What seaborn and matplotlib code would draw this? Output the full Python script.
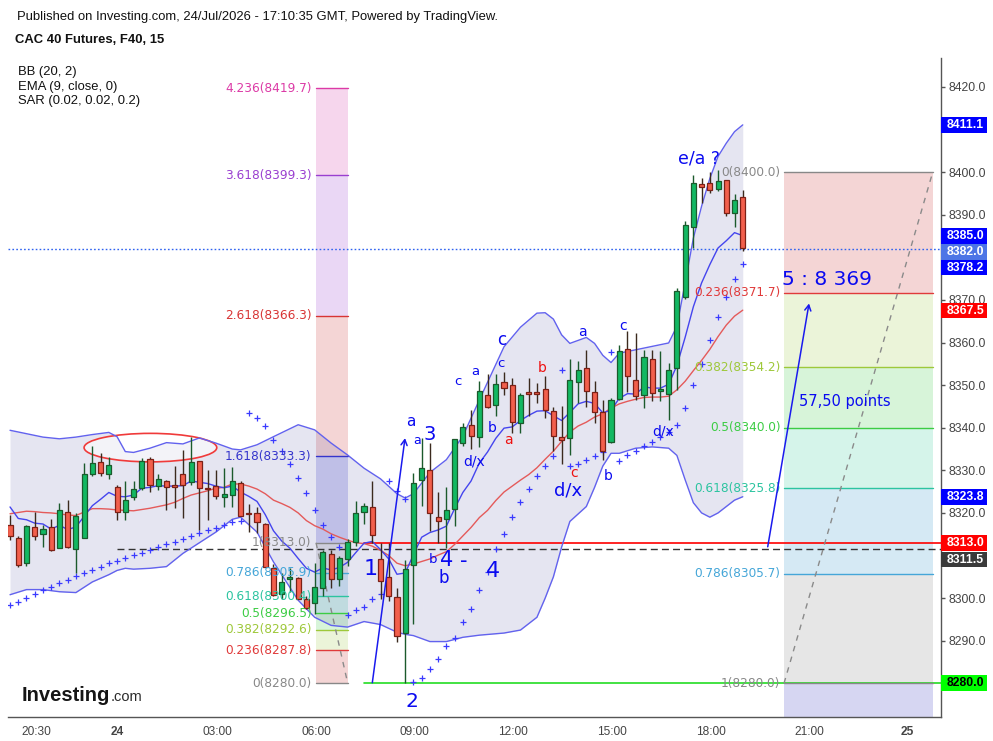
import numpy as np
import pandas as pd
import matplotlib
matplotlib.use("Agg")
import matplotlib.pyplot as plt
import seaborn as sns
from matplotlib.patches import Ellipse, FancyArrowPatch, Rectangle
from matplotlib.transforms import blended_transform_factory

# ---------------- data ----------------
opens = [8317.2, 8314.1, 8308.2, 8316.7, 8315.0, 8316.7, 8311.7, 8320.3, 8311.5, 8314.1,
         8329.1, 8331.9, 8329.1, 8326.2, 8320.3, 8323.7, 8325.8, 8332.6, 8326.4, 8327.6,
         8326.5, 8329.2, 8327.2, 8332.1, 8325.8, 8326.4, 8323.7, 8324.3, 8327.0, 8320.0,
         8320.0, 8317.4, 8307.1, 8301.0, 8304.5, 8304.8, 8299.8, 8298.8, 8302.4, 8310.4,
         8304.4, 8309.2, 8313.1, 8320.3, 8321.4, 8309.2, 8305.0, 8300.3, 8291.8, 8307.8,
         8327.8, 8330.1, 8319.1, 8318.6, 8320.9, 8336.3, 8340.7, 8337.8, 8347.7, 8345.3,
         8350.7, 8350.0, 8341.1, 8348.2, 8348.3, 8349.1, 8344.0, 8337.9, 8337.6, 8350.7,
         8354.0, 8348.4, 8343.7, 8336.6, 8346.8, 8358.5, 8351.3, 8347.6, 8356.1, 8348.6,
         8348.0, 8354.0, 8370.7, 8387.1, 8397.2, 8397.4, 8396.0, 8398.2, 8390.4, 8394.1]
highs = [8319.6, 8314.6, 8317.2, 8320.3, 8317.2, 8318.5, 8322.3, 8323.1, 8320.0, 8331.7,
         8335.8, 8334.0, 8333.2, 8326.6, 8327.4, 8327.5, 8332.9, 8333.2, 8329.2, 8327.8,
         8330.9, 8334.8, 8337.9, 8332.3, 8330.1, 8330.0, 8330.5, 8330.7, 8327.4, 8322.1,
         8321.3, 8317.6, 8307.9, 8306.0, 8307.1, 8304.9, 8300.5, 8308.3, 8311.3, 8311.4,
         8309.9, 8313.8, 8322.8, 8322.4, 8327.4, 8313.0, 8313.0, 8302.4, 8309.0, 8329.4,
         8337.6, 8336.3, 8324.9, 8326.1, 8337.4, 8341.1, 8344.2, 8350.9, 8352.7, 8352.7,
         8353.0, 8351.7, 8348.2, 8351.7, 8350.5, 8352.2, 8344.9, 8345.0, 8356.1, 8355.7,
         8358.2, 8350.9, 8346.6, 8347.0, 8359.5, 8362.6, 8362.2, 8358.3, 8358.3, 8358.1,
         8355.2, 8372.8, 8388.6, 8399.4, 8398.6, 8400.1, 8400.4, 8398.2, 8394.9, 8395.7]
lows = [8313.7, 8307.4, 8307.6, 8313.7, 8312.0, 8311.0, 8311.7, 8311.7, 8305.9, 8314.1,
        8328.6, 8328.6, 8328.0, 8318.4, 8318.4, 8323.1, 8325.4, 8324.8, 8325.4, 8320.6,
        8321.1, 8318.8, 8326.5, 8315.9, 8318.4, 8323.2, 8321.3, 8321.3, 8319.2, 8315.6,
        8315.3, 8307.2, 8300.5, 8299.7, 8301.4, 8299.7, 8297.5, 8296.2, 8300.5, 8302.4,
        8302.8, 8307.5, 8312.2, 8317.3, 8313.0, 8299.7, 8299.3, 8289.8, 8280.0, 8294.0,
        8321.6, 8315.7, 8313.0, 8311.8, 8316.9, 8335.6, 8334.9, 8335.5, 8344.6, 8342.7,
        8347.6, 8338.8, 8338.8, 8342.7, 8345.8, 8342.3, 8334.5, 8331.4, 8333.7, 8345.7,
        8344.9, 8341.1, 8332.5, 8336.4, 8346.6, 8348.3, 8346.6, 8344.6, 8346.2, 8346.2,
        8341.7, 8348.9, 8370.2, 8382.2, 8392.7, 8395.2, 8395.5, 8389.6, 8387.2, 8381.4]
closes = [8314.5, 8307.8, 8317.0, 8314.5, 8316.2, 8311.2, 8320.7, 8312.0, 8319.2, 8329.1,
          8331.7, 8329.3, 8331.3, 8320.1, 8323.1, 8325.6, 8332.3, 8326.6, 8327.9, 8326.1,
          8326.0, 8326.6, 8331.9, 8325.8, 8325.6, 8323.9, 8324.4, 8327.5, 8319.2, 8319.7,
          8317.8, 8307.4, 8300.7, 8303.8, 8304.7, 8299.9, 8297.7, 8302.7, 8310.9, 8304.6,
          8309.4, 8313.1, 8320.0, 8321.6, 8314.9, 8304.0, 8300.5, 8291.1, 8306.8, 8327.1,
          8330.6, 8319.9, 8318.2, 8320.6, 8337.4, 8340.2, 8338.0, 8348.6, 8344.9, 8350.3,
          8349.3, 8341.3, 8347.7, 8348.0, 8348.0, 8344.1, 8338.0, 8337.2, 8351.3, 8353.6,
          8348.6, 8343.6, 8334.5, 8346.6, 8358.1, 8352.2, 8347.4, 8356.6, 8348.2, 8349.1,
          8353.6, 8372.0, 8387.6, 8397.4, 8396.6, 8395.7, 8398.0, 8390.5, 8393.5, 8382.2]

bb_basis = [8319.8, 8320.1, 8320.4, 8320.3, 8320.1, 8320.0, 8319.8, 8319.5, 8319.4, 8320.2,
            8321.0, 8321.0, 8320.9, 8320.7, 8320.6, 8320.5, 8320.8, 8321.1, 8321.5, 8321.9,
            8322.5, 8323.4, 8324.2, 8324.7, 8325.2, 8325.8, 8326.0, 8326.8, 8326.8, 8326.3,
            8325.6, 8324.5, 8323.0, 8322.2, 8321.3, 8320.0, 8318.2, 8317.0, 8316.2, 8315.1,
            8314.3, 8313.6, 8313.0, 8312.8, 8312.2, 8311.2, 8310.0, 8308.2, 8307.6, 8308.0,
            8308.6, 8309.2, 8310.1, 8310.9, 8312.6, 8314.6, 8316.6, 8318.9, 8320.6, 8322.9,
            8324.9, 8326.3, 8327.7, 8329.0, 8330.6, 8332.6, 8334.5, 8336.8, 8339.0, 8340.4,
            8341.3, 8342.5, 8343.3, 8344.6, 8345.6, 8346.2, 8346.7, 8347.1, 8347.2, 8347.2,
            8347.4, 8348.9, 8350.9, 8353.4, 8355.8, 8358.4, 8361.4, 8364.1, 8366.2, 8367.6]
ema9 = [8321.4, 8318.7, 8318.4, 8317.6, 8317.4, 8316.2, 8317.1, 8316.1, 8316.7, 8319.2,
        8321.7, 8323.2, 8324.8, 8323.9, 8323.8, 8324.2, 8325.8, 8326.0, 8326.4, 8326.3,
        8326.3, 8326.4, 8327.5, 8327.2, 8326.9, 8326.3, 8325.9, 8326.3, 8324.9, 8323.9,
        8322.7, 8319.6, 8315.8, 8313.4, 8311.7, 8309.3, 8307.0, 8306.1, 8307.1, 8306.6,
        8307.2, 8308.4, 8310.7, 8312.9, 8313.3, 8311.4, 8309.2, 8305.6, 8305.9, 8310.2,
        8314.3, 8315.4, 8316.0, 8316.9, 8321.0, 8324.8, 8327.5, 8331.7, 8334.3, 8337.5,
        8339.9, 8340.2, 8341.7, 8342.9, 8343.9, 8344.0, 8342.8, 8341.7, 8343.6, 8345.6,
        8346.2, 8345.7, 8343.5, 8344.1, 8346.9, 8348.0, 8347.9, 8349.6, 8349.3, 8349.3,
        8350.2, 8354.6, 8361.2, 8368.4, 8374.0, 8378.3, 8382.2, 8383.9, 8385.8, 8385.1]
sar = [8298.3, 8299.1, 8300.1, 8300.9, 8301.8, 8302.6, 8303.5, 8304.3, 8305.2, 8305.8,
       8306.6, 8307.4, 8308.3, 8308.8, 8309.5, 8310.2, 8310.6, 8311.4, 8312.1, 8312.7,
       8313.1, 8313.9, 8314.5, 8315.2, 8315.9, 8316.5, 8317.1, 8317.8, 8318.2, 8343.5,
       8342.3, 8340.3, 8337.2, 8334.5, 8331.4, 8328.2, 8324.6, 8320.6, 8317.1, 8314.3,
       8312.0, 8296.0, 8297.1, 8298.0, 8299.9, 8300.9, 8327.4, 8325.1, 8323.3, 8280.3,
       8281.2, 8283.3, 8285.6, 8288.8, 8290.7, 8294.4, 8297.5, 8302.0, 8306.1, 8311.6,
       8315.1, 8319.1, 8322.5, 8325.6, 8328.6, 8331.0, 8333.3, 8353.6, 8331.1, 8331.6,
       8332.4, 8333.3, 8334.2, 8357.7, 8332.3, 8333.5, 8334.6, 8335.7, 8336.7, 8337.8,
       8339.0, 8340.7, 8344.6, 8350.0, 8355.0, 8360.5, 8366.0, 8370.7, 8374.9, 8378.5]

bb_idx = [0, 2, 4, 6, 8, 10, 12, 13, 14, 15, 17, 19, 21, 23, 25, 27, 28, 30, 32, 35,
          37, 39, 41, 43, 45, 47, 48, 49, 51, 53, 55, 57, 60, 62, 64, 65, 66, 67, 68, 70,
          71, 72, 73, 74, 76, 78, 80, 81, 82, 83, 84, 85, 86, 87, 88, 89]
bb_upper = [8339.4, 8338.6, 8337.8, 8337.4, 8337.8, 8338.4, 8338.9, 8337.9, 8334.4, 8334.2,
            8335.2, 8336.5, 8336.2, 8337.6, 8336.4, 8335.0, 8334.8, 8336.0, 8337.9, 8340.7,
            8339.5, 8336.4, 8333.6, 8330.5, 8328.0, 8324.5, 8323.5, 8324.5, 8329.5, 8332.5,
            8338.0, 8346.5, 8359.0, 8363.6, 8366.9, 8367.0, 8365.5, 8361.8, 8359.8, 8361.2,
            8359.8, 8357.0, 8355.3, 8357.5, 8358.3, 8359.1, 8359.9, 8363.8, 8374.0, 8384.5,
            8392.0, 8398.5, 8403.7, 8406.8, 8409.5, 8411.1]
bb_lower = [8300.8, 8302.0, 8302.0, 8301.5, 8301.3, 8303.8, 8305.5, 8306.5, 8307.0, 8306.8,
            8307.0, 8307.4, 8310.5, 8313.0, 8315.5, 8318.5, 8319.0, 8315.5, 8308.5, 8299.5,
            8295.5, 8293.6, 8293.2, 8294.5, 8293.8, 8292.0, 8291.5, 8291.2, 8289.8, 8289.8,
            8290.8, 8291.3, 8291.8, 8292.5, 8295.5, 8300.0, 8305.0, 8312.0, 8318.0, 8321.5,
            8326.0, 8331.0, 8334.0, 8334.0, 8335.2, 8335.5, 8335.2, 8333.5, 8327.8, 8322.4,
            8320.0, 8319.0, 8320.0, 8321.5, 8323.0, 8323.8]

tick_labels = ["20:30", "24", "03:00", "06:00", "09:00", "12:00", "15:00", "18:00", "21:00", "25"]

fib_left_names = ["4.236", "3.618", "2.618", "1.618", "1", "0.786", "0.618", "0.5", "0.382", "0.236", "0"]
fib_left_prices = [8419.7, 8399.3, 8366.3, 8333.3, 8313.0, 8305.9, 8300.4, 8296.5, 8292.6, 8287.8, 8280.0]
fib_right_names = ["0", "0.236", "0.382", "0.5", "0.618", "0.786", "1"]
fib_right_prices = [8400.0, 8371.7, 8354.2, 8340.0, 8325.8, 8305.7, 8280.0]

current_price = 8382.0
support_red = 8313.0
support_green = 8280.0
dashed_level = 8311.5
badge_values = ["8411.1", "8385.0", "8382.0", "8378.2", "8367.5", "8323.8", "8313.0", "8311.5", "8280.0"]

# ---------------- styling ----------------
sns.set_theme(style="white")
plt.rcParams["font.family"] = ["Liberation Sans", "DejaVu Sans"]

W, H = 993, 741
fig = plt.figure(figsize=(W / 100, H / 100), dpi=100)
ax_l, ax_r, ax_t, ax_b = 8.3, 941.0, 58.3, 717.3
ax = fig.add_axes([ax_l / W, 1 - ax_b / H, (ax_r - ax_l) / W, (ax_b - ax_t) / H])
ax.set_facecolor("white")
XMIN, XMAX = -0.21, 113.08
YMIN, YMAX = 8272.02, 8426.73
ax.set_xlim(XMIN, XMAX)
ax.set_ylim(YMIN, YMAX)
PX_PER_PT = 4.2614


def px_to_x(px):
    return (px - 10.0) / 8.233


def py_to_y(py):
    return 8420.0 - (py - 86.7) / PX_PER_PT


idx = np.arange(len(closes))

# ---------------- fibonacci boxes ----------------
fib_colors = {"0": "#888888", "0.236": "#e03a3a", "0.382": "#9ec83a", "0.5": "#3ccc44",
              "0.618": "#2cc4a0", "0.786": "#45a6d8", "1": "#888888", "1.618": "#3535cc",
              "2.618": "#d83535", "3.618": "#9a3fd0", "4.236": "#dc3aa6"}
left_fills = ["#f6d6ed", "#ead7f5", "#f4d5d5", "#d3d3f4", "#e4e4e8", "#d5e9f4",
              "#d5f4ea", "#d7f4d9", "#ebf4d9", "#f4d5d5"]
right_fills = ["#f4d5d5", "#ebf4d9", "#d7f4d9", "#d5f4ea", "#d5e9f4", "#e6e6e6"]

lx0, lx1 = px_to_x(316.0), px_to_x(347.7)
for k in range(len(fib_left_prices) - 1):
    ax.fill_between([lx0, lx1], fib_left_prices[k + 1], fib_left_prices[k],
                    color=left_fills[k], lw=0, zorder=1)
for name, p in zip(fib_left_names, fib_left_prices):
    ax.plot([lx0, lx1], [p, p], color=fib_colors[name], lw=1, zorder=3)
    ax.text(px_to_x(311.5), p, f"{name}({p:.1f})", ha="right", va="center",
            fontsize=8.7, color=fib_colors[name], family="DejaVu Sans", zorder=6)

rx0, rx1 = px_to_x(784.0), px_to_x(932.7)
for k in range(len(fib_right_prices) - 1):
    ax.fill_between([rx0, rx1], fib_right_prices[k + 1], fib_right_prices[k],
                    color=right_fills[k], lw=0, zorder=1)
ax.fill_between([rx0, rx1], YMIN, fib_right_prices[-1], color="#d6d6f2", lw=0, zorder=1)

# ---------------- Bollinger band fill ----------------
ax.fill_between(bb_idx, bb_lower, bb_upper, color="#3a3a96", alpha=0.13, lw=0, zorder=2)

for name, p in zip(fib_right_names, fib_right_prices):
    ax.plot([rx0, rx1], [p, p], color=fib_colors[name], lw=1, zorder=3.2)
    ax.text(px_to_x(780.5), p, f"{name}({p:.1f})", ha="right", va="center",
            fontsize=8.7, color=fib_colors[name], family="DejaVu Sans", zorder=6)

# diagonal dashed trend lines of the fib tools
ax.plot([lx0, lx1], [fib_left_prices[4], fib_left_prices[-1]], color="#8a8a8a", lw=1,
        dashes=(4, 4), zorder=3.3)
ax.plot([rx0, rx1], [fib_right_prices[-1], fib_right_prices[0]], color="#8a8a8a", lw=1,
        dashes=(4, 4), zorder=3.3)

# ellipse
ell = Ellipse((px_to_x(150.4), py_to_y(447.5)), width=132.7 / 8.233, height=28.5 / PX_PER_PT,
              facecolor=(1, 1, 1, 0.55), edgecolor="#f03a3a", lw=1.2, zorder=2.5)
ax.add_patch(ell)

# horizontal levels
ax.plot([px_to_x(364.3), XMAX], [support_red, support_red], color="#ff0000", lw=1.2, zorder=3.1)
ax.plot([px_to_x(364.3), XMAX], [support_green, support_green], color="#22dd22", lw=1.2, zorder=3.0)
ax.plot([px_to_x(116.7), XMAX], [dashed_level, dashed_level], color="#333333", lw=1,
        dashes=(5, 3), zorder=3.1)
ax.plot([XMIN, XMAX], [current_price, current_price], color="#2f62f0", lw=1,
        dashes=(1.2, 1.6), zorder=3.1)

# ---------------- indicator lines (seaborn) ----------------
sns.lineplot(x=bb_idx, y=bb_upper, ax=ax, color="#6262ee", lw=1, estimator=None, sort=False, zorder=4)
sns.lineplot(x=bb_idx, y=bb_lower, ax=ax, color="#6262ee", lw=1, estimator=None, sort=False, zorder=4)
sns.lineplot(x=idx, y=bb_basis, ax=ax, color="#e45a5a", lw=1, estimator=None, sort=False, zorder=4)
sns.lineplot(x=idx, y=ema9, ax=ax, color="#4545ee", lw=1, estimator=None, sort=False, zorder=4)
sns.scatterplot(x=idx, y=sar, ax=ax, marker="+", s=14, color="#3a3aff", linewidth=0.9, zorder=4.5)

# ---------------- candles ----------------
o = np.array(opens); c = np.array(closes); h = np.array(highs); l = np.array(lows)
up = c >= o
green_face, green_edge = "#12b862", "#1b5a2c"
red_face, red_edge = "#f25f4c", "#7c2016"
ax.vlines(idx[up], l[up], h[up], color=green_edge, lw=1, zorder=5)
ax.vlines(idx[~up], l[~up], h[~up], color="#3b2a1e", lw=1, zorder=5)
body_bot = np.minimum(o, c)
body_h = np.maximum(np.abs(c - o), 0.35)
ax.bar(idx[up], body_h[up], bottom=body_bot[up], width=0.62, color=green_face,
       edgecolor=green_edge, lw=0.9, zorder=5.5)
ax.bar(idx[~up], body_h[~up], bottom=body_bot[~up], width=0.62, color=red_face,
       edgecolor=red_edge, lw=0.9, zorder=5.5)

# ---------------- arrows ----------------
for (x0, y0, x1, y1) in [(372.3, 682.7, 405.0, 438.0), (767.7, 546.7, 809.0, 303.3)]:
    arr = FancyArrowPatch((px_to_x(x0), py_to_y(y0)), (px_to_x(x1), py_to_y(y1)),
                          arrowstyle="->,head_length=4,head_width=2.2", color="#1a1aee",
                          lw=1.1, zorder=6, shrinkA=0, shrinkB=0)
    ax.add_patch(arr)

# ---------------- wave labels ----------------
BLUE = "#0a0af0"
RED = "#ee1111"
labels = [
    ("e/a ?", 699, 158, 12.5, BLUE), ("5 : 8 369", 827, 279, 14.5, BLUE),
    ("57,50 points", 845, 401, 10.5, BLUE),
    ("a", 410.7, 421, 11, BLUE), ("3", 429.3, 434, 14, BLUE), ("a", 417.3, 440, 9, BLUE),
    ("c", 501.7, 340, 12, BLUE), ("c", 500.7, 363.3, 9.5, BLUE), ("a", 475.7, 371, 9.5, BLUE),
    ("c", 458.3, 381.7, 9.5, BLUE), ("b", 491.7, 428.3, 10, BLUE), ("d/x", 474.3, 461.7, 10, BLUE),
    ("a", 508.3, 440, 10, RED), ("b", 541.7, 368.3, 10, RED),
    ("a", 582.3, 331.7, 10, BLUE), ("c", 623.3, 326, 10, BLUE), ("c", 574.3, 472.7, 10, RED),
    ("d/x", 567.7, 490, 13, BLUE), ("b", 607.7, 476, 10, BLUE), ("d/x", 663.3, 431, 10, BLUE),
    ("b", 433.0, 559, 9.5, BLUE), ("4", 447, 560, 15, BLUE), ("-", 463.3, 561, 15, BLUE),
    ("b", 443.3, 578, 12, BLUE), ("4", 493.3, 570.7, 16, BLUE),
    ("1", 371, 569.3, 16, BLUE), ("2", 412.3, 701.7, 14.5, BLUE),
]
for txt, px, py, fs, col in labels:
    ax.text(px_to_x(px), py_to_y(py), txt, ha="center", va="center", fontsize=fs,
            color=col, family="DejaVu Sans", zorder=7, clip_on=False)

# ---------------- axes styling ----------------
for s in ["top", "left"]:
    ax.spines[s].set_visible(False)
for s in ["bottom", "right"]:
    ax.spines[s].set_color("#555555")
    ax.spines[s].set_linewidth(1)

hidden_ticks = {8280, 8310, 8380, 8410}   # covered by price badges in the reference
ax.yaxis.tick_right()
yt = np.arange(8280, 8421, 10)
ax.set_yticks(yt)
ax.set_yticklabels(["" if v in hidden_ticks else f"{v:.1f}" for v in yt])
ax.tick_params(axis="y", direction="out", length=3, width=1, color="#555555", pad=2.5,
               labelsize=8.7, labelcolor="#444444")
tick_px = [36.0, 117.7, 217.3, 316.0, 414.0, 513.3, 612.3, 711.0, 809.0, 907.7]
ax.set_xticks([px_to_x(p) for p in tick_px])
ax.set_xticklabels(tick_labels)
ax.tick_params(axis="x", direction="out", length=3, width=1, color="#555555", pad=3,
               labelsize=8.6, labelcolor="#444444")
for t in ax.get_xticklabels():
    if t.get_text() in ("24", "25"):
        t.set_fontweight("bold")
ax.set_xlabel("")
ax.set_ylabel("")
ax.grid(False)

# ---------------- price badges ----------------
trans = blended_transform_factory(ax.transAxes, ax.transData)
badge_pos = [8411.1, 8385.05, 8381.3, 8377.6, 8367.5, 8323.8, 8312.9, 8309.05, 8280.0]
badge_fc = ["#0000ff", "#0000ff", "#4d75e6", "#0000ff", "#ff0000", "#0000ff", "#ff0000",
            "#3a3a3a", "#00ff00"]
badge_tc = ["white"] * 8 + ["black"]
axw = ax_r - ax_l
bw_ax = 46.0 / axw
bh = 15.8 / PX_PER_PT
for v, p, fc, tc in zip(badge_values, badge_pos, badge_fc, badge_tc):
    ax.add_patch(Rectangle((1.0, p - bh / 2), bw_ax, bh, transform=trans, facecolor=fc,
                           edgecolor="none", clip_on=False, zorder=9))
    ax.text(1 + 6.0 / axw, p, v, transform=trans, ha="left", va="center", fontsize=8.8,
            fontweight="bold", color=tc, clip_on=False, zorder=10)

# ---------------- header texts ----------------
fig.text(17 / W, 1 - 17 / H, "Published on Investing.com, 24/Jul/2026 - 17:10:35 GMT, Powered by TradingView.",
         ha="left", va="center", fontsize=9.4, color="#111111")
fig.text(15 / W, 1 - 40 / H, "CAC 40 Futures, F40, 15", ha="left", va="center",
         fontsize=9.4, fontweight="bold", color="#111111")
for k, s in enumerate(["BB (20, 2)", "EMA (9, close, 0)", "SAR (0.02, 0.02, 0.2)"]):
    fig.text(18 / W, 1 - (72 + 14.6 * k) / H, s, ha="left", va="center", fontsize=9.4, color="#111111")

# Investing.com logo text
t1 = fig.text(22 / W, 1 - 701 / H, "Investing", ha="left", va="baseline", fontsize=14.5,
              fontweight="bold", color="#151515")
fig.canvas.draw()
bb = t1.get_window_extent()
fig.text(bb.x1 / W + 0.5 / W, 1 - 701 / H, ".com", ha="left", va="baseline", fontsize=10.5,
         color="#2a2a2a")

fig.savefig("out.png", dpi=100)
